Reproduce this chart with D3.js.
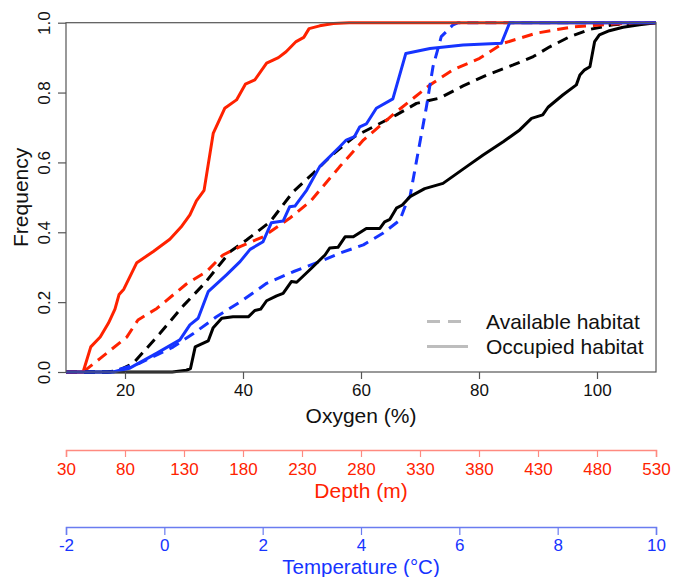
<!DOCTYPE html>
<html>
<head>
<meta charset="utf-8">
<script src="https://cdn.jsdelivr.net/npm/d3@7"></script>
<style>
  body { margin: 0; background: #fff; }
  text { font-family: "Liberation Sans", Arial, sans-serif; }
</style>
</head>
<body>
<div id="chart"></div>
<script>
"use strict";

// oxygen (%) on x, cumulative frequency on y
var oxyOccX = [10, 28, 30.4, 31.1, 31.9, 34.1, 34.95, 36.4, 38.3, 40.9, 42.0, 43.0, 44.0, 45.7, 46.8, 48.2, 49.1, 51.6, 53.9, 54.7, 56.1, 57.3, 58.7, 60.9, 63.2, 64.0, 64.9, 66.0, 67.0, 68.3, 70.8, 73.9, 77.9, 80.7, 84.1, 86.9, 88.9, 90.8, 91.7, 94.2, 96.5, 97.1, 97.9, 98.8, 99.6, 100.4, 102.1, 104.4, 107.2, 110];
var oxyOccY = [0, 0, 0.005, 0.01, 0.072, 0.089, 0.127, 0.154, 0.158, 0.158, 0.176, 0.18, 0.204, 0.218, 0.225, 0.259, 0.257, 0.297, 0.335, 0.355, 0.357, 0.387, 0.387, 0.411, 0.411, 0.43, 0.437, 0.469, 0.478, 0.502, 0.525, 0.54, 0.588, 0.621, 0.659, 0.693, 0.726, 0.736, 0.758, 0.793, 0.822, 0.85, 0.865, 0.874, 0.946, 0.965, 0.977, 0.987, 0.994, 1.0];

var oxyAvX = [10, 17, 19, 21.4, 25.9, 29.9, 33.5, 37.8, 40.6, 44.6, 48.5, 51.9, 55, 58.9, 62.1, 66.0, 69.4, 73.3, 77.3, 81.3, 85.8, 89.2, 92.0, 95.4, 98.8, 102.7, 105.5, 110];
var oxyAvY = [0, 0, 0.005, 0.025, 0.11, 0.19, 0.254, 0.344, 0.378, 0.43, 0.516, 0.569, 0.62, 0.674, 0.702, 0.736, 0.769, 0.784, 0.819, 0.85, 0.879, 0.903, 0.931, 0.96, 0.981, 0.994, 0.998, 1];

var depOccX = [10, 12.9, 14.2, 15.8, 17.2, 18.3, 19.0, 19.8, 22.0, 24.8, 27.6, 29.5, 31.0, 32.1, 33.4, 34.95, 36.9, 38.9, 40.4, 42.0, 44.0, 46.0, 47.3, 49.0, 50.3, 51.2, 53.0, 55.3, 58, 110];
var depOccY = [0, 0, 0.072, 0.1, 0.14, 0.18, 0.222, 0.237, 0.313, 0.345, 0.38, 0.415, 0.45, 0.49, 0.52, 0.683, 0.755, 0.779, 0.824, 0.836, 0.884, 0.9, 0.917, 0.946, 0.958, 0.983, 0.991, 0.998, 1, 1];

var depAvX = [10, 12.9, 15.8, 20.3, 22.2, 25.4, 30.4, 33.8, 36.6, 39.5, 43.4, 47.9, 51.5, 53.5, 56.4, 60.4, 66.0, 71.7, 75.6, 80.1, 84.1, 89.7, 95.9, 102.7, 108, 110];
var depAvY = [0, 0, 0.039, 0.1, 0.149, 0.182, 0.252, 0.287, 0.335, 0.359, 0.387, 0.44, 0.49, 0.53, 0.588, 0.664, 0.745, 0.822, 0.865, 0.898, 0.941, 0.97, 0.988, 0.996, 1, 1];

var tmpOccX = [10, 18, 19.1, 20.8, 25.4, 29.3, 31.0, 32.4, 34.1, 37.2, 39.5, 41.2, 43.4, 44.8, 46.8, 47.9, 48.8, 50.8, 53.0, 56.4, 57.5, 58.9, 59.8, 60.9, 62.6, 65.4, 67.6, 71.7, 77.3, 83.8, 85.2, 110];
var tmpOccY = [0, 0, 0.005, 0.011, 0.054, 0.092, 0.135, 0.154, 0.23, 0.278, 0.316, 0.351, 0.373, 0.427, 0.432, 0.473, 0.475, 0.521, 0.588, 0.645, 0.664, 0.674, 0.702, 0.71, 0.755, 0.782, 0.912, 0.926, 0.936, 0.941, 1, 1];

var tmpAvX = [10, 17.5, 22.5, 28.2, 31.6, 35.5, 40.0, 44.0, 48.5, 53.0, 56.4, 60.4, 63.7, 66.6, 68.0, 68.3, 71.1, 72.2, 73.6, 75.6, 76.5, 110];
var tmpAvY = [0, 0, 0.025, 0.072, 0.11, 0.158, 0.206, 0.254, 0.287, 0.316, 0.34, 0.364, 0.397, 0.435, 0.497, 0.502, 0.76, 0.874, 0.96, 0.994, 1, 1];

var oxyTicks = [20, 40, 60, 80, 100];
var freqTicks = [0, 0.2, 0.4, 0.6, 0.8, 1.0];
var depthTicks = [30, 80, 130, 180, 230, 280, 330, 380, 430, 480, 530];
var tempTicks = [-2, 0, 2, 4, 6, 8, 10];
var legendLabels = ["Available habitat", "Occupied habitat"];

var width = 673,
  height = 577;
var plotL = 66,
  plotR = 656,
  plotT = 22.7,
  plotB = 372;

var red = "#ff2200",
  blue = "#1634ff";

var x = d3.scaleLinear().domain([10, 110]).range([plotL, plotR]);
var y = d3.scaleLinear().domain([0, 1]).range([plotB, plotT]);
var xDepth = d3.scaleLinear().domain([30, 530]).range([plotL, plotR]);
var xTemp = d3.scaleLinear().domain([-2, 10]).range([plotL, plotR]);

var svg = d3
  .select("#chart")
  .append("svg")
  .attr("width", width)
  .attr("height", height);

svg
  .append("clipPath")
  .attr("id", "clip")
  .append("rect")
  .attr("x", plotL - 2)
  .attr("y", plotT - 2)
  .attr("width", plotR - plotL + 4)
  .attr("height", plotB - plotT + 4);

var series = [
  { xs: oxyAvX, ys: oxyAvY, color: "#000", dash: "11,7" },
  { xs: depAvX, ys: depAvY, color: red, dash: "11,7" },
  { xs: tmpAvX, ys: tmpAvY, color: blue, dash: "11,7" },
  { xs: oxyOccX, ys: oxyOccY, color: "#000", dash: null },
  { xs: depOccX, ys: depOccY, color: red, dash: null },
  { xs: tmpOccX, ys: tmpOccY, color: blue, dash: null }
];

var line = d3
  .line()
  .x(function(d) { return x(d[0]); })
  .y(function(d) { return y(d[1]); });

svg
  .append("g")
  .attr("clip-path", "url(#clip)")
  .selectAll("path")
  .data(series)
  .enter()
  .append("path")
  .attr("d", function(s) {
    return line(d3.zip(s.xs, s.ys));
  })
  .attr("fill", "none")
  .attr("stroke", function(s) { return s.color; })
  .attr("stroke-width", 3)
  .attr("stroke-linejoin", "round")
  .attr("stroke-dasharray", function(s) { return s.dash; });

// box around the plot
svg
  .append("rect")
  .attr("x", plotL)
  .attr("y", plotT)
  .attr("width", plotR - plotL)
  .attr("height", plotB - plotT)
  .attr("fill", "none")
  .attr("stroke", "#555")
  .attr("stroke-width", 1.2);

// axes
function styleAxis(g, lineColor, textColor) {
  g.select(".domain").attr("stroke", lineColor).attr("stroke-width", 1.5);
  g.selectAll(".tick line").attr("stroke", lineColor).attr("stroke-width", 1.2);
  g.selectAll(".tick text")
    .attr("fill", textColor)
    .style("font-size", "17px")
    .style("font-family", "Liberation Sans, Arial, sans-serif");
}

var plain = function(d) { return String(d); };

var gx = svg
  .append("g")
  .attr("transform", "translate(0," + plotB + ")")
  .call(d3.axisBottom(x).tickValues(oxyTicks).tickSize(7).tickPadding(5).tickSizeOuter(0));
gx.select(".domain").remove();
styleAxis(gx, "#555", "#111");

var gy = svg
  .append("g")
  .attr("transform", "translate(" + plotL + ",0)")
  .call(d3.axisLeft(y).tickValues(freqTicks).tickSize(8).tickFormat(d3.format(".1f")).tickSizeOuter(0));
gy.select(".domain").remove();
styleAxis(gy, "#555", "#111");
gy.selectAll(".tick text")
  .attr("x", null)
  .attr("dy", null)
  .attr("text-anchor", "middle")
  .attr("transform", "translate(-16,0) rotate(-90)");

var gd = svg
  .append("g")
  .attr("transform", "translate(0,450)")
  .call(d3.axisBottom(xDepth).tickValues(depthTicks).tickFormat(plain).tickSize(7).tickPadding(6).tickSizeOuter(7));
styleAxis(gd, "#ff8a80", red);

var gt = svg
  .append("g")
  .attr("transform", "translate(0,527)")
  .call(d3.axisBottom(xTemp).tickValues(tempTicks).tickFormat(plain).tickSize(8).tickPadding(4).tickSizeOuter(8));
styleAxis(gt, "#6a7cf0", blue);

// axis titles
svg
  .append("text")
  .attr("x", (plotL + plotR) / 2)
  .attr("y", 423)
  .attr("text-anchor", "middle")
  .style("font-size", "21px")
  .attr("fill", "#111")
  .text("Oxygen (%)");

svg
  .append("text")
  .attr("transform", "translate(28," + (plotT + plotB) / 2 + ") rotate(-90)")
  .attr("text-anchor", "middle")
  .style("font-size", "21px")
  .attr("fill", "#111")
  .text("Frequency");

svg
  .append("text")
  .attr("x", (plotL + plotR) / 2)
  .attr("y", 498)
  .attr("text-anchor", "middle")
  .style("font-size", "21px")
  .attr("fill", red)
  .text("Depth (m)");

svg
  .append("text")
  .attr("x", (plotL + plotR) / 2)
  .attr("y", 574)
  .attr("text-anchor", "middle")
  .style("font-size", "20.5px")
  .attr("fill", blue)
  .text("Temperature (°C)");

// legend
var legend = svg
  .selectAll(".legend")
  .data(legendLabels)
  .enter()
  .append("g")
  .attr("class", "legend")
  .attr("transform", function(d, i) {
    return "translate(427," + (321.5 + i * 25) + ")";
  });

legend
  .append("line")
  .attr("x1", 0)
  .attr("x2", function(d, i) { return i === 0 ? 35 : 41; })
  .attr("stroke", "#bdbdbd")
  .attr("stroke-width", 3)
  .attr("stroke-dasharray", function(d, i) { return i === 0 ? "13,8" : null; });

legend
  .append("text")
  .attr("x", 59)
  .attr("y", 7.5)
  .style("font-size", "21px")
  .attr("fill", "#111")
  .text(function(d) { return d; });
</script>
</body>
</html>
